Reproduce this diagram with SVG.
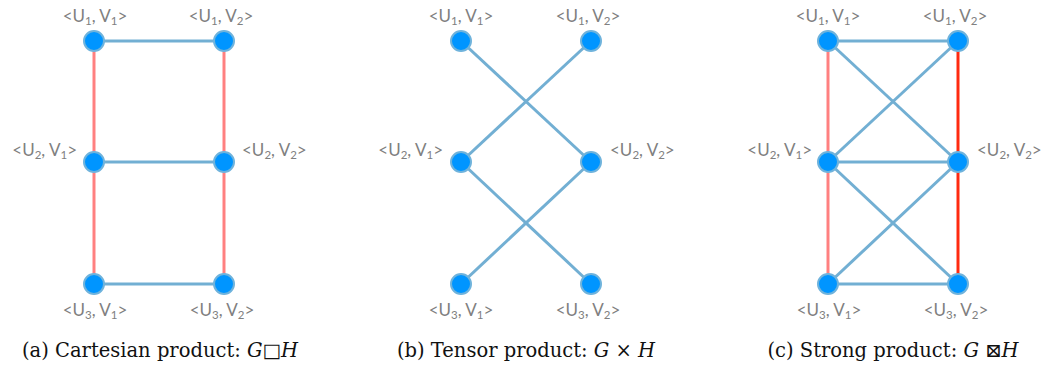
<svg xmlns="http://www.w3.org/2000/svg" width="1049" height="369" viewBox="0 0 1049 369">
<style>
.e{stroke:#72afd3;stroke-width:3;fill:none}
.r{stroke:#ff8080;stroke-width:3;fill:none}
.rr{stroke:#ff2a10;stroke-width:3;fill:none}
.n{fill:#0095ff;stroke:#6fb3dc;stroke-width:2}
.l{font-family:Lato,"Open Sans",sans-serif;font-size:17px;fill:#808080}
.s{font-size:11.5px}
.c{font-family:"DejaVu Serif",serif;font-size:19.5px;fill:#111}
.m{font-style:italic}
</style>
<rect width="1049" height="369" fill="#fff"/>
<g id="connectors">
<line class="r" x1="94" y1="41" x2="94" y2="284"/>
<line class="r" x1="224" y1="41" x2="224" y2="284"/>
<line class="e" x1="94" y1="41" x2="224" y2="41"/>
<line class="e" x1="94" y1="162" x2="224" y2="162"/>
<line class="e" x1="94" y1="284" x2="224" y2="284"/>
<line class="e" x1="461" y1="41" x2="591" y2="162"/>
<line class="e" x1="591" y1="41" x2="461" y2="162"/>
<line class="e" x1="461" y1="162" x2="591" y2="284"/>
<line class="e" x1="591" y1="162" x2="461" y2="284"/>
<line class="r" x1="828" y1="41" x2="828" y2="284"/>
<line class="rr" x1="958" y1="41" x2="958" y2="284"/>
<line class="e" x1="828" y1="41" x2="958" y2="41"/>
<line class="e" x1="828" y1="162" x2="958" y2="162"/>
<line class="e" x1="828" y1="284" x2="958" y2="284"/>
<line class="e" x1="828" y1="41" x2="958" y2="162"/>
<line class="e" x1="958" y1="41" x2="828" y2="162"/>
<line class="e" x1="828" y1="162" x2="958" y2="284"/>
<line class="e" x1="958" y1="162" x2="828" y2="284"/>
</g>
<g id="a-u1v1"><circle class="n" cx="94" cy="41" r="10"/><text class="l" x="95" y="22" text-anchor="middle">&lt;U<tspan class="s" dy="3">1</tspan><tspan dy="-3">, V</tspan><tspan class="s" dy="3">1</tspan><tspan dy="-3">&gt;</tspan></text></g>
<g id="a-u1v2"><circle class="n" cx="224" cy="41" r="10"/><text class="l" x="221" y="22" text-anchor="middle">&lt;U<tspan class="s" dy="3">1</tspan><tspan dy="-3">, V</tspan><tspan class="s" dy="3">2</tspan><tspan dy="-3">&gt;</tspan></text></g>
<g id="a-u2v1"><circle class="n" cx="94" cy="162" r="10"/><text class="l" x="77" y="156" text-anchor="end">&lt;U<tspan class="s" dy="3">2</tspan><tspan dy="-3">, V</tspan><tspan class="s" dy="3">1</tspan><tspan dy="-3">&gt;</tspan></text></g>
<g id="a-u2v2"><circle class="n" cx="224" cy="162" r="10"/><text class="l" x="242" y="156">&lt;U<tspan class="s" dy="3">2</tspan><tspan dy="-3">, V</tspan><tspan class="s" dy="3">2</tspan><tspan dy="-3">&gt;</tspan></text></g>
<g id="a-u3v1"><circle class="n" cx="94" cy="284" r="10"/><text class="l" x="95" y="316" text-anchor="middle">&lt;U<tspan class="s" dy="3">3</tspan><tspan dy="-3">, V</tspan><tspan class="s" dy="3">1</tspan><tspan dy="-3">&gt;</tspan></text></g>
<g id="a-u3v2"><circle class="n" cx="224" cy="284" r="10"/><text class="l" x="222" y="316" text-anchor="middle">&lt;U<tspan class="s" dy="3">3</tspan><tspan dy="-3">, V</tspan><tspan class="s" dy="3">2</tspan><tspan dy="-3">&gt;</tspan></text></g>
<g id="b-u1v1"><circle class="n" cx="461" cy="41" r="10"/><text class="l" x="461" y="22" text-anchor="middle">&lt;U<tspan class="s" dy="3">1</tspan><tspan dy="-3">, V</tspan><tspan class="s" dy="3">1</tspan><tspan dy="-3">&gt;</tspan></text></g>
<g id="b-u1v2"><circle class="n" cx="591" cy="41" r="10"/><text class="l" x="588" y="22" text-anchor="middle">&lt;U<tspan class="s" dy="3">1</tspan><tspan dy="-3">, V</tspan><tspan class="s" dy="3">2</tspan><tspan dy="-3">&gt;</tspan></text></g>
<g id="b-u2v1"><circle class="n" cx="461" cy="162" r="10"/><text class="l" x="443" y="156" text-anchor="end">&lt;U<tspan class="s" dy="3">2</tspan><tspan dy="-3">, V</tspan><tspan class="s" dy="3">1</tspan><tspan dy="-3">&gt;</tspan></text></g>
<g id="b-u2v2"><circle class="n" cx="591" cy="162" r="10"/><text class="l" x="610" y="156">&lt;U<tspan class="s" dy="3">2</tspan><tspan dy="-3">, V</tspan><tspan class="s" dy="3">2</tspan><tspan dy="-3">&gt;</tspan></text></g>
<g id="b-u3v1"><circle class="n" cx="461" cy="284" r="10"/><text class="l" x="461" y="316" text-anchor="middle">&lt;U<tspan class="s" dy="3">3</tspan><tspan dy="-3">, V</tspan><tspan class="s" dy="3">1</tspan><tspan dy="-3">&gt;</tspan></text></g>
<g id="b-u3v2"><circle class="n" cx="591" cy="284" r="10"/><text class="l" x="588" y="316" text-anchor="middle">&lt;U<tspan class="s" dy="3">3</tspan><tspan dy="-3">, V</tspan><tspan class="s" dy="3">2</tspan><tspan dy="-3">&gt;</tspan></text></g>
<g id="c-u1v1"><circle class="n" cx="828" cy="41" r="10"/><text class="l" x="828" y="22" text-anchor="middle">&lt;U<tspan class="s" dy="3">1</tspan><tspan dy="-3">, V</tspan><tspan class="s" dy="3">1</tspan><tspan dy="-3">&gt;</tspan></text></g>
<g id="c-u1v2"><circle class="n" cx="958" cy="41" r="10"/><text class="l" x="955" y="22" text-anchor="middle">&lt;U<tspan class="s" dy="3">1</tspan><tspan dy="-3">, V</tspan><tspan class="s" dy="3">2</tspan><tspan dy="-3">&gt;</tspan></text></g>
<g id="c-u2v1"><circle class="n" cx="828" cy="162" r="10"/><text class="l" x="812" y="156" text-anchor="end">&lt;U<tspan class="s" dy="3">2</tspan><tspan dy="-3">, V</tspan><tspan class="s" dy="3">1</tspan><tspan dy="-3">&gt;</tspan></text></g>
<g id="c-u2v2"><circle class="n" cx="958" cy="162" r="10"/><text class="l" x="977" y="156">&lt;U<tspan class="s" dy="3">2</tspan><tspan dy="-3">, V</tspan><tspan class="s" dy="3">2</tspan><tspan dy="-3">&gt;</tspan></text></g>
<g id="c-u3v1"><circle class="n" cx="828" cy="284" r="10"/><text class="l" x="829" y="316" text-anchor="middle">&lt;U<tspan class="s" dy="3">3</tspan><tspan dy="-3">, V</tspan><tspan class="s" dy="3">1</tspan><tspan dy="-3">&gt;</tspan></text></g>
<g id="c-u3v2"><circle class="n" cx="958" cy="284" r="10"/><text class="l" x="956" y="316" text-anchor="middle">&lt;U<tspan class="s" dy="3">3</tspan><tspan dy="-3">, V</tspan><tspan class="s" dy="3">2</tspan><tspan dy="-3">&gt;</tspan></text></g>
<g id="captions">
<text class="c" x="160" y="357" text-anchor="middle">(a) Cartesian product: <tspan class="m">G</tspan>□<tspan class="m">H</tspan></text>
<text class="c" x="526" y="357" text-anchor="middle">(b) Tensor product: <tspan class="m">G</tspan> × <tspan class="m">H</tspan></text>
<text class="c" x="893" y="357" text-anchor="middle">(c) Strong product: <tspan class="m">G</tspan> ⊠<tspan class="m">H</tspan></text>
</g>
</svg>
